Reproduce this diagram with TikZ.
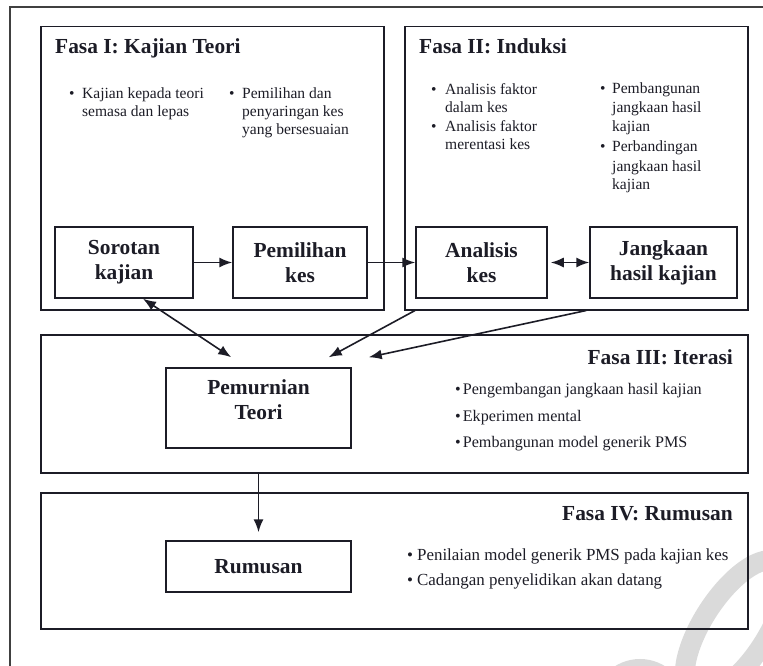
\documentclass[tikz,border=0pt]{standalone}
\usepackage{fontspec}
\setmainfont{Liberation Serif}
\usetikzlibrary{arrows.meta,calc}
\newcommand\phtitlefont{\bfseries\fontsize{21.5}{25}\selectfont}
\newcommand\stagefont{\bfseries\fontsize{21.5}{25}\selectfont}
\newcommand\itemfontA{\fontsize{15.6}{18}\selectfont}
\newcommand\itemfontB{\fontsize{16.2}{19}\selectfont}
\newcommand\itemfontC{\fontsize{17}{19}\selectfont}
\definecolor{ink}{HTML}{1C1C26}
\definecolor{wmark}{HTML}{DADADA}
\begin{document}
\begin{tikzpicture}[x=1bp,y=-1bp,
  frame/.style={draw=black!75,line width=1.3bp},
  phase/.style={draw=ink,line width=1.5bp,inner sep=0pt,anchor=north west},
  stage/.style={draw=ink,line width=1.5bp,inner sep=0pt,align=center,font=\stagefont,text=ink},
  phtitle/.style={font=\phtitlefont,inner sep=0pt,text=ink},
  itemA/.style={font=\itemfontA,inner sep=0pt,anchor=base west,text=ink},
  itemB/.style={font=\itemfontB,inner sep=0pt,anchor=base west,text=ink},
  itemC/.style={font=\itemfontC,inner sep=0pt,anchor=base west,text=ink},
  tip/.tip={Latex[length=13bp,width=10bp]},
  link/.style={draw=ink,line width=1.6bp,-tip},
  twoway/.style={draw=ink,line width=1.6bp,tip-tip}
]
\useasboundingbox (0,0) rectangle (763,666);

% faint watermark strokes in the lower right corner
\draw[wmark,line width=20bp] (735,628) circle [x radius=78, y radius=32, rotate=57];
\draw[wmark,line width=18bp] (640,706) circle [radius=38];

% outer frame
\draw[frame] (10,7) rectangle (780,690);

% phase panels
\node[phase,minimum width=343bp,minimum height=283bp] (f1) at (40,26) {};
\node[phase,minimum width=343bp,minimum height=283bp] (f2) at (404,26) {};
\node[phase,minimum width=707bp,minimum height=138bp] (f3) at (40,334) {};
\node[phase,minimum width=707bp,minimum height=136bp] (f4) at (40,492) {};

% panel titles
\node[phtitle,anchor=base west] (t1) at (55,54) {Fasa I: Kajian Teori};
\node[phtitle,anchor=base west] (t2) at (419,54) {Fasa II: Induksi};
\node[phtitle,anchor=base east] (t3) at (733,364) {Fasa III: Iterasi};
\node[phtitle,anchor=base east] (t4) at (733,520) {Fasa IV: Rumusan};

% stage boxes
\node[stage,minimum width=138bp,minimum height=71bp] (sor) at (124,262.5) {Sorotan\\kajian};
\node[stage,minimum width=134bp,minimum height=71bp] (pem) at (300,262.5) {Pemilihan\\kes};
\node[stage,minimum width=131bp,minimum height=71bp] (ana) at (481.5,262.5) {Analisis\\kes};
\node[stage,minimum width=147bp,minimum height=71bp] (jan) at (663.5,262.5) {Jangkaan\\hasil kajian};
\node[stage,minimum width=185bp,minimum height=80bp] (pmr) at (258.5,408) {};
\node[stage,draw=none] (pmrtext) at (258.5,400) {Pemurnian\\Teori};
\node[stage,minimum width=185bp,minimum height=51bp] (rum) at (258.5,566.5) {Rumusan};

% Fasa I bullet notes
\foreach \n/\x/\y/\t in {
  a1/69/99/\textbullet, a2/82/99/Kajian kepada teori, a3/82/117/semasa dan lepas,
  a4/229/99/\textbullet, a5/242/99/Pemilihan dan, a6/242/117/penyaringan kes, a7/242/135/yang bersesuaian}
  \node[itemA] (\n) at (\x,\y) {\t};

% Fasa II bullet notes
\foreach \n/\x/\y/\t in {
  b1/431/95/\textbullet, b2/445/95/Analisis faktor, b3/445/113/dalam kes,
  b4/431/132/\textbullet, b5/445/132/Analisis faktor, b6/445/150/merentasi kes,
  b7/600/94/\textbullet, b8/612/94/Pembangunan, b9/612/113/jangkaan hasil, b10/612/132/kajian,
  b11/600/152/\textbullet, b12/612/152/Perbandingan, b13/612/171/jangkaan hasil, b14/612/189/kajian}
  \node[itemA] (\n) at (\x,\y) {\t};

% Fasa III bullet notes
\foreach \n/\y/\t in {
  c1/394/Pengembangan jangkaan hasil kajian,
  c2/421/Ekperimen mental,
  c3/447/Pembangunan model generik PMS}
  \node[itemB] (\n) at (455,\y) {\textbullet\hspace{2bp}\t};

% Fasa IV bullet notes
\foreach \n/\y/\t in {
  d1/560/Penilaian model generik PMS pada kajian kes,
  d2/585/Cadangan penyelidikan akan datang}
  \node[itemC] (\n) at (407,\y) {\textbullet\hspace{4bp}\t};

% free ends of the slanted arrows
\coordinate (s1) at ($(sor.south)+(19,0)$);
\coordinate (e1) at ($(pmr.north west)+(66,-10)$);
\coordinate (s2) at ($(f2.south west)+(11,0)$);
\coordinate (e2) at ($(pmr.north east)+(-23,-10)$);
\coordinate (s3) at ($(jan.south west |- f2.south)+(-3,0)$);
\coordinate (e3) at ($(pmr.north east)+(17,-10)$);

% connectors
\draw[link] (sor) -- (pem);
\draw[link] (pem) -- (ana);
\draw[twoway,shorten <=3bp] (ana) -- (jan);
\draw[twoway] (s1) -- (e1);
\draw[link] (s2) -- (e2);
\draw[link] (s3) -- (e3);
\draw[link,shorten >=8bp] (pmr.south |- f3.south) -- (pmr.south |- rum.north);
\end{tikzpicture}
\end{document}
